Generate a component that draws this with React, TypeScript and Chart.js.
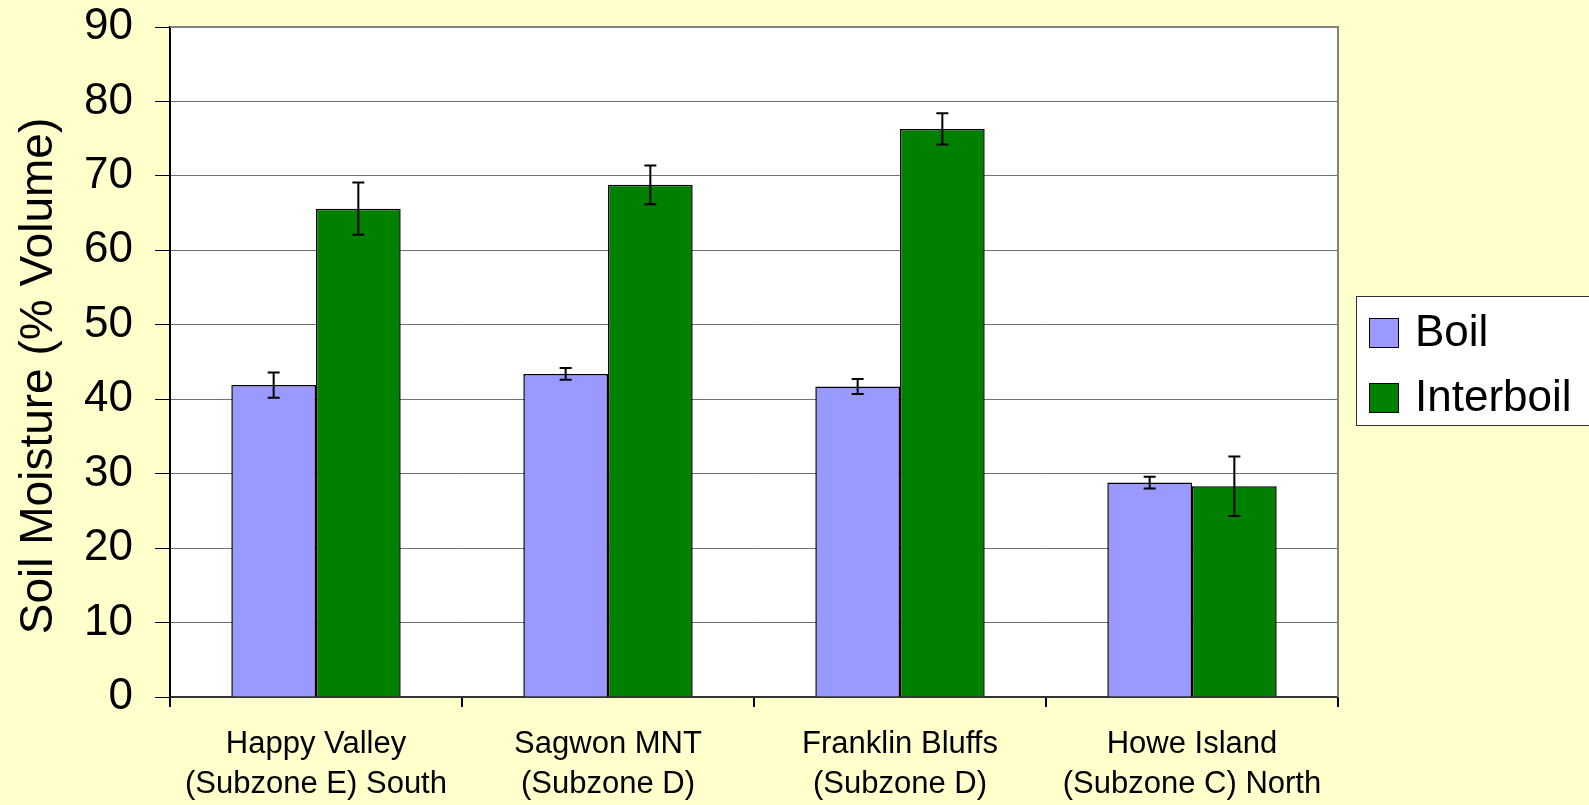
import React, { useEffect, useRef } from "react";
import { Chart, registerables } from "chart.js";

Chart.register(...registerables);

const categories: string[][] = [
  ["Happy Valley", "(Subzone E) South"],
  ["Sagwon MNT", "(Subzone D)"],
  ["Franklin Bluffs", "(Subzone D)"],
  ["Howe Island", "(Subzone C) North"],
];
const seriesNames = ["Boil", "Interboil"];
const boilValues = [41.9, 43.4, 41.7, 28.8];
const boilErrors = [1.7, 0.8, 1.0, 0.8];
const interboilValues = [65.6, 68.8, 76.3, 28.3];
const interboilErrors = [3.5, 2.6, 2.1, 4.0];
const yTickValues = [0, 10, 20, 30, 40, 50, 60, 70, 80, 90];
const yAxisTitle = "Soil Moisture (% Volume)";
const errorSets = [boilErrors, interboilErrors];
const seriesColors = ["#9999FF", "#008000"];

const FONT = "'Liberation Sans', Arial, sans-serif";

const backgroundPlugin = {
  id: "bgPlugin",
  beforeDraw(chart: any) {
    const { ctx, chartArea } = chart;
    ctx.save();
    ctx.fillStyle = "#FFFFCC";
    ctx.fillRect(0, 0, chart.width, chart.height);
    ctx.fillStyle = "#FFFFFF";
    ctx.fillRect(chartArea.left, chartArea.top, chartArea.right - chartArea.left, chartArea.bottom - chartArea.top);
    ctx.restore();
  },
  beforeDatasetsDraw(chart: any) {
    const { ctx, chartArea } = chart;
    ctx.save();
    ctx.strokeStyle = "#808080";
    ctx.lineWidth = 2;
    ctx.beginPath();
    ctx.moveTo(chartArea.left, chartArea.top);
    ctx.lineTo(chartArea.right, chartArea.top);
    ctx.lineTo(chartArea.right, chartArea.bottom);
    ctx.stroke();
    ctx.restore();
  },
};

const errorBarPlugin = {
  id: "errorBars",
  afterDatasetsDraw(chart: any) {
    const { ctx } = chart;
    const yScale = chart.scales.y;
    ctx.save();
    ctx.strokeStyle = "#000000";
    ctx.lineWidth = 2;
    chart.data.datasets.forEach((ds: any, di: number) => {
      const meta = chart.getDatasetMeta(di);
      const errs = errorSets[di];
      meta.data.forEach((bar: any, i: number) => {
        const v = ds.data[i];
        const e = errs[i];
        const x = bar.x;
        const yTop = yScale.getPixelForValue(v + e);
        const yBot = yScale.getPixelForValue(v - e);
        const cap = 6;
        ctx.beginPath();
        ctx.moveTo(x, yTop);
        ctx.lineTo(x, yBot);
        ctx.moveTo(x - cap, yTop);
        ctx.lineTo(x + cap, yTop);
        ctx.moveTo(x - cap, yBot);
        ctx.lineTo(x + cap, yBot);
        ctx.stroke();
      });
    });
    ctx.restore();
  },
};

const titlePlugin = {
  id: "yTitle",
  afterDraw(chart: any) {
    const { ctx } = chart;
    ctx.save();
    ctx.translate(39, 376);
    ctx.rotate(-Math.PI / 2);
    ctx.font = `46px ${FONT}`;
    ctx.fillStyle = "#000000";
    ctx.textAlign = "center";
    ctx.textBaseline = "middle";
    ctx.fillText(yAxisTitle, 0, 0);
    ctx.restore();
  },
};

const legendPlugin = {
  id: "boxLegend",
  afterDraw(chart: any) {
    const { ctx } = chart;
    ctx.save();
    ctx.fillStyle = "#FFFFFF";
    ctx.fillRect(1356, 296, 240, 130);
    ctx.strokeStyle = "#333333";
    ctx.lineWidth = 1;
    ctx.strokeRect(1356.5, 296.5, 240, 129);
    ctx.font = `44px ${FONT}`;
    ctx.textBaseline = "middle";
    ctx.textAlign = "left";
    chart.data.datasets.forEach((ds: any, i: number) => {
      const top = 318 + i * 65;
      ctx.fillStyle = ds.backgroundColor;
      ctx.fillRect(1369, top, 30, 30);
      ctx.strokeStyle = "#000000";
      ctx.lineWidth = 1;
      ctx.strokeRect(1369.5, top + 0.5, 29, 29);
      ctx.fillStyle = "#000000";
      ctx.fillText(ds.label, 1415, top + 16);
    });
    ctx.restore();
  },
};

export default function App() {
  const canvasRef = useRef<HTMLCanvasElement | null>(null);

  useEffect(() => {
    document.body.style.margin = "0";
    document.body.style.background = "#FFFFCC";
    const canvas = canvasRef.current;
    if (!canvas) return;
    const chart = new Chart(canvas, {
      type: "bar",
      data: {
        labels: categories,
        datasets: [
          {
            label: seriesNames[0],
            data: boilValues,
            backgroundColor: seriesColors[0],
            borderColor: "#000000",
            borderWidth: 1.5,
            categoryPercentage: 0.58,
            barPercentage: 1.0,
          },
          {
            label: seriesNames[1],
            data: interboilValues,
            backgroundColor: seriesColors[1],
            borderColor: "#000000",
            borderWidth: 1.5,
            categoryPercentage: 0.58,
            barPercentage: 1.0,
          },
        ],
      },
      options: {
        responsive: false,
        animation: false,
        devicePixelRatio: 1,
        layout: { padding: { top: 27, right: 251, bottom: 0, left: 0 } },
        plugins: {
          legend: { display: false },
          tooltip: { enabled: false },
        },
        scales: {
          x: {
            afterFit(scale: any) {
              scale.height = 108;
              scale.paddingLeft = 0;
              scale.paddingRight = 0;
            },
            grid: {
              offset: true,
              drawOnChartArea: false,
              drawTicks: true,
              tickLength: 10,
              color: "#000000",
              lineWidth: 2,
            },
            border: { color: "#333333", width: 2 },
            ticks: {
              color: "#000000",
              font: { family: FONT, size: 31, lineHeight: 1.3 },
              padding: 17,
              maxRotation: 0,
              autoSkip: false,
            },
          },
          y: {
            min: 0,
            max: 90,
            afterFit(scale: any) {
              scale.width = 170;
              scale.paddingTop = 0;
              scale.paddingBottom = 0;
            },
            afterBuildTicks(scale: any) {
              scale.ticks = yTickValues.map((v) => ({ value: v }));
            },
            grid: {
              color: "#707070",
              lineWidth: 1,
              tickColor: "#000000",
              tickLength: 15,
            },
            border: { color: "#000000", width: 2 },
            ticks: {
              color: "#000000",
              font: { family: FONT, size: 44 },
              padding: 22,
            },
            title: { display: false, text: yAxisTitle },
          },
        },
      },
      plugins: [backgroundPlugin, errorBarPlugin, titlePlugin, legendPlugin],
    });
    return () => chart.destroy();
  }, []);

  return (
    <div style={{ width: 1589, height: 805, background: "#FFFFCC" }}>
      <canvas ref={canvasRef} width={1589} height={805} style={{ display: "block" }} />
    </div>
  );
}
